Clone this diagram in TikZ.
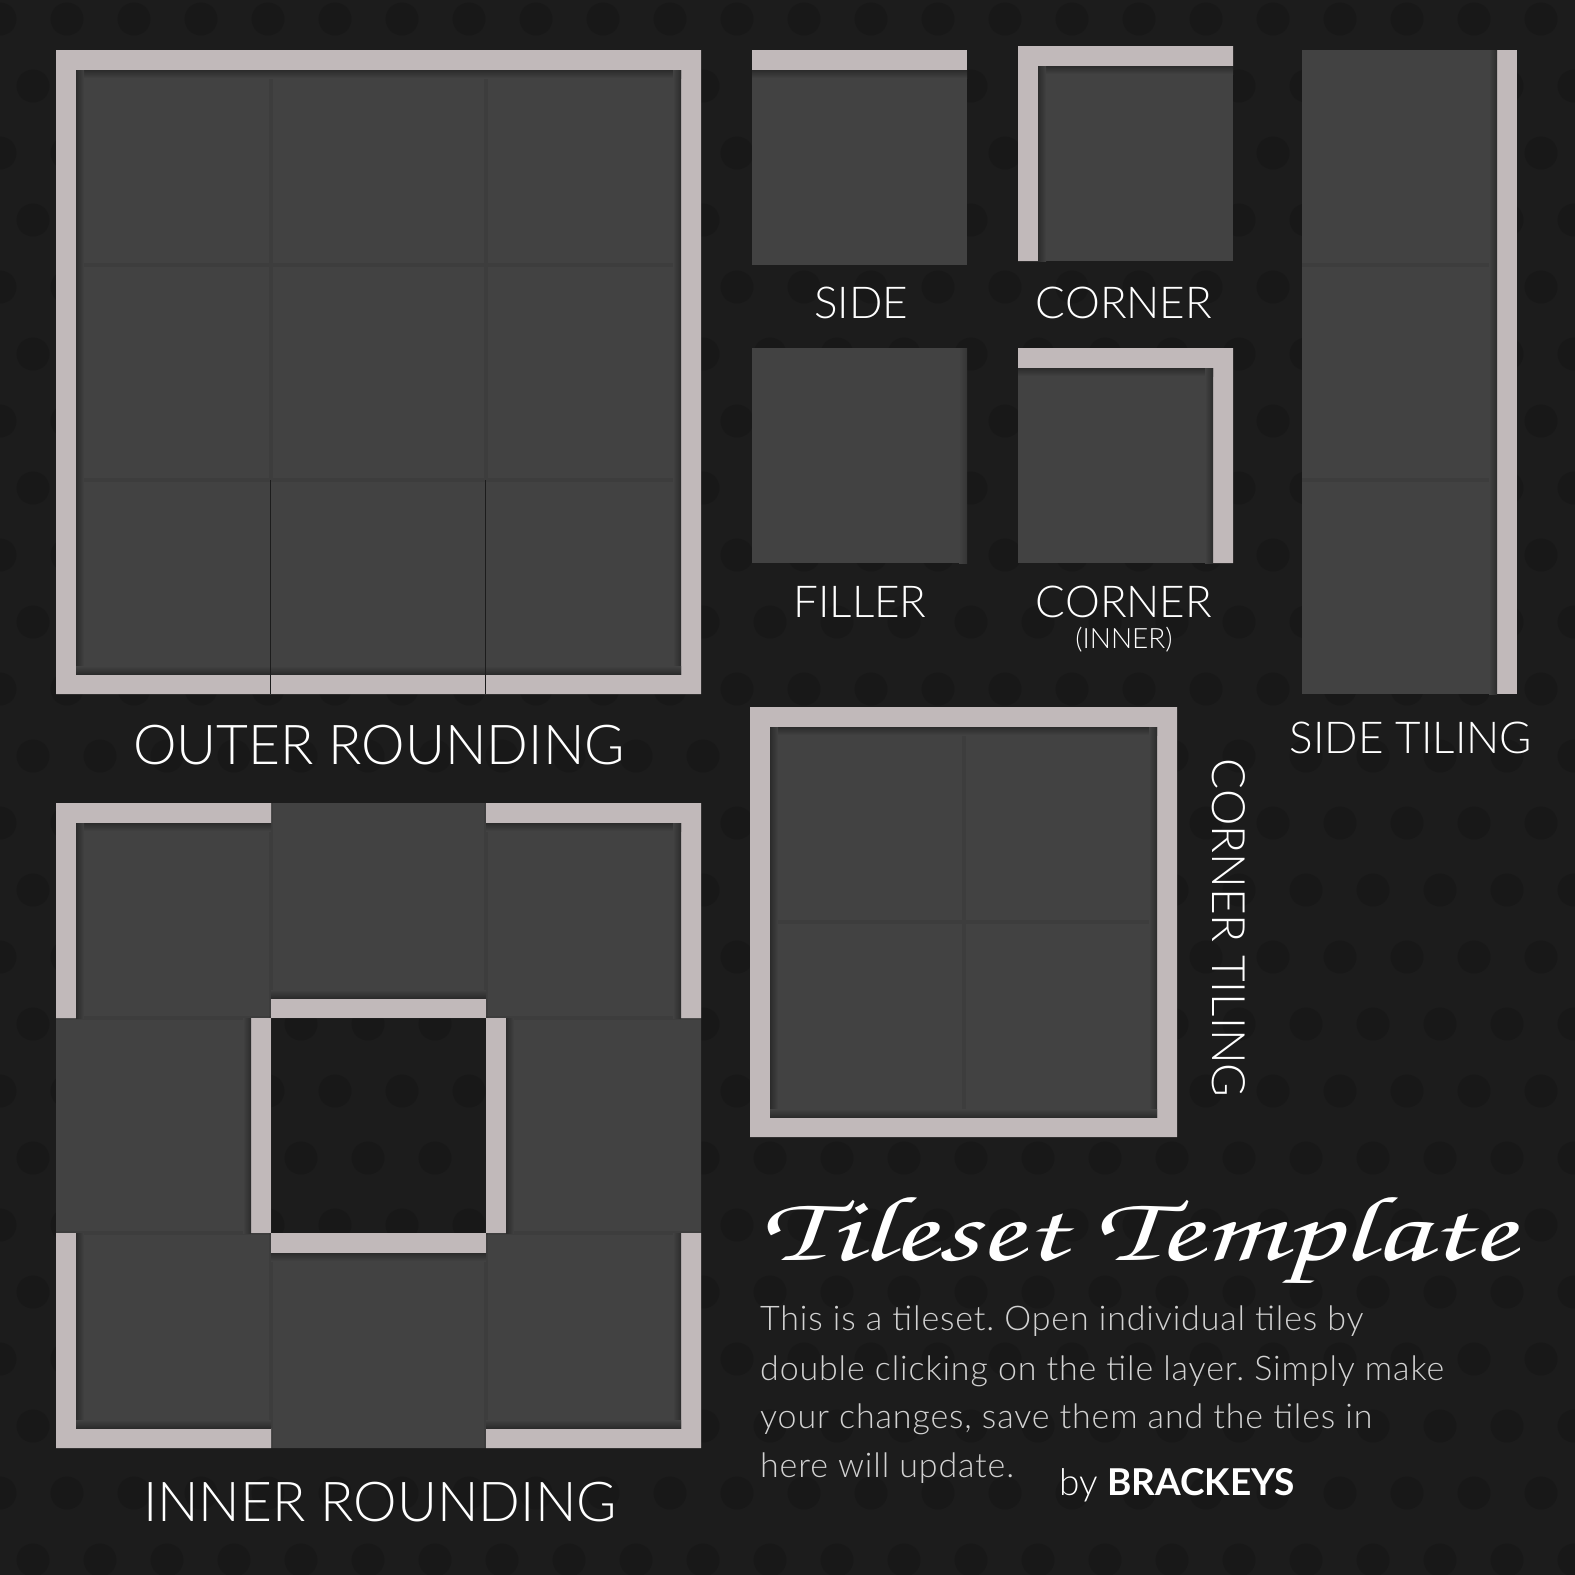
\documentclass[tikz,border=0pt]{standalone}
\usepackage[T1]{fontenc}
\usepackage{fontspec}
\usepackage{graphicx}
\setmainfont{Lato}
\newfontfamily\latolight{Lato Light}
\newfontfamily\latobody[LetterSpace=2.5]{Lato Light}
\newcommand{\titlehand}{\usefont{T1}{pzc}{mb}{it}}
\frenchspacing
\definecolor{bgcol}{HTML}{1C1C1C}
\definecolor{dotcol}{HTML}{181818}
\definecolor{tilecol}{HTML}{424242}
\definecolor{rimcol}{HTML}{C1B9BA}
\definecolor{shadecol}{HTML}{2B2B2B}
\definecolor{bodycol}{HTML}{D2D2D2}
\tikzset{
  tile/.style={fill=tilecol},
  rim/.style={fill=rimcol},
  seam/.style={draw=black, draw opacity=0.07, line width=4},
  darkseam/.style={draw=bgcol, line width=1.5},
  label/.style={text=white, inner sep=0pt, font=\latolight\fontsize{44}{44}\selectfont},
  biglabel/.style={label, font=\latolight\fontsize{55}{55}\selectfont},
  bodytext/.style={text=bodycol, inner sep=0pt, anchor=base west, font=\latobody\fontsize{34}{34}\selectfont}
}

\begin{document}
\begin{tikzpicture}[x=1pt,y=1pt,yscale=-1,xscale=1]
	\useasboundingbox (0,0) rectangle (1575,1575);
	% background with dots
	\fill[bgcol] (0,0) rectangle (1575,1575);
	\foreach \k in {0,...,23}{
		\pgfmathsetmacro\xoff{mod(\k,2)*33}
		\foreach \n in {0,...,24}
			\fill[dotcol] (\n*67+\xoff,19+\k*67) circle[radius=16.5];
	}
	
	%Shape: Outer rounding 3x3
	\fill[tile] (56,50) rectangle (701,694);
	\draw[seam] (271,50) -- (271,480) (486,50) -- (486,480) (56,265) -- (701,265) (56,480) -- (701,480);
	\fill[rim] (56,50) rectangle (701,70) (56,50) rectangle (76,694) (681,50) rectangle (701,694) (56,674) rectangle (701,694);
	\shade[top color=shadecol,bottom color=tilecol] (76,70) rectangle (681,78);
	\shade[left color=shadecol,right color=tilecol] (76,70) rectangle (84,674);
	\shade[left color=tilecol,right color=shadecol] (673,70) rectangle (681,674);
	\shade[top color=tilecol,bottom color=shadecol] (76,666) rectangle (681,674);
	\draw[darkseam] (270.5,480) -- (270.5,694) (485.5,480) -- (485.5,694);
	
	%Shape: Side
	\fill[tile] (752,50) rectangle (967,265);
	\fill[rim] (752,50) rectangle (967,70);
	\shade[top color=shadecol,bottom color=tilecol] (752,70) rectangle (967,78);
	
	%Shape: Corner
	\fill[tile] (1018,46) rectangle (1233,261);
	\fill[rim] (1018,46) rectangle (1233,66) (1018,46) rectangle (1038,261);
	\shade[top color=shadecol,bottom color=tilecol] (1038,66) rectangle (1233,74);
	\shade[left color=shadecol,right color=tilecol] (1038,66) rectangle (1046,261);
	
	%Shape: Filler
	\fill[tile] (752,348) rectangle (967,563);
	\shade[left color=tilecol,right color=tilecol!80!black] (959,348) rectangle (967,563);
	
	%Shape: Corner (inner)
	\fill[tile] (1018,348) rectangle (1233,563);
	\fill[rim] (1018,348) rectangle (1233,368) (1213,348) rectangle (1233,563);
	\shade[top color=shadecol,bottom color=tilecol] (1018,368) rectangle (1213,376);
	\shade[left color=tilecol,right color=shadecol] (1205,368) rectangle (1213,563);
	
	%Shape: Side tiling
	\fill[tile] (1302,50) rectangle (1517,694);
	\draw[seam] (1302,265) -- (1517,265) (1302,480) -- (1517,480);
	\fill[rim] (1497,50) rectangle (1517,694);
	\shade[left color=tilecol,right color=shadecol] (1489,50) rectangle (1497,694);
	
	%Shape: Corner tiling 2x2
	\fill[tile] (750,707) rectangle (1177,1137);
	\draw[seam] (963.5,707) -- (963.5,1137) (750,922) -- (1177,922);
	\fill[rim] (750,707) rectangle (1177,727) (750,707) rectangle (770,1137) (1157,707) rectangle (1177,1137) (750,1117) rectangle (1177,1137);
	\shade[top color=shadecol,bottom color=tilecol] (770,727) rectangle (1157,735);
	\shade[left color=shadecol,right color=tilecol] (770,727) rectangle (778,1117);
	\shade[left color=tilecol,right color=shadecol] (1149,727) rectangle (1157,1117);
	\shade[top color=tilecol,bottom color=shadecol] (770,1109) rectangle (1157,1117);
	
	%Shape: Inner rounding 3x3 with hole
	\fill[tile] (56,803) rectangle (701,1018) (56,1018) rectangle (271,1233) (486,1018) rectangle (701,1233) (56,1233) rectangle (701,1448);
	\draw[seam] (271,803) -- (271,1018) (486,803) -- (486,1018) (271,1233) -- (271,1448) (486,1233) -- (486,1448);
	\draw[seam] (56,1018) -- (271,1018) (486,1018) -- (701,1018) (56,1233) -- (271,1233) (486,1233) -- (701,1233);
	% top left
	\fill[rim] (56,803) rectangle (271,823) (56,803) rectangle (76,1018);
	\shade[top color=shadecol,bottom color=tilecol] (76,823) rectangle (271,831);
	\shade[left color=shadecol,right color=tilecol] (76,823) rectangle (84,1018);
	% top middle
	\fill[rim] (271,998) rectangle (486,1018);
	\shade[top color=tilecol,bottom color=shadecol] (271,990) rectangle (486,998);
	% top right
	\fill[rim] (486,803) rectangle (701,823) (681,803) rectangle (701,1018);
	\shade[top color=shadecol,bottom color=tilecol] (486,823) rectangle (681,831);
	\shade[left color=tilecol,right color=shadecol] (673,823) rectangle (681,1018);
	% middle left
	\fill[rim] (251,1018) rectangle (271,1233);
	\shade[left color=tilecol,right color=shadecol] (243,1018) rectangle (251,1233);
	% middle right
	\fill[rim] (486,1018) rectangle (506,1233);
	\shade[left color=shadecol,right color=tilecol] (506,1018) rectangle (514,1233);
	% bottom left
	\fill[rim] (56,1233) rectangle (76,1448) (56,1428) rectangle (271,1448);
	\shade[left color=shadecol,right color=tilecol] (76,1233) rectangle (84,1428);
	\shade[top color=tilecol,bottom color=shadecol] (76,1420) rectangle (271,1428);
	% bottom middle
	\fill[rim] (271,1233) rectangle (486,1253);
	\shade[top color=shadecol,bottom color=tilecol] (271,1253) rectangle (486,1261);
	% bottom right
	\fill[rim] (681,1233) rectangle (701,1448) (486,1428) rectangle (701,1448);
	\shade[left color=tilecol,right color=shadecol] (673,1233) rectangle (681,1428);
	\shade[top color=tilecol,bottom color=shadecol] (486,1420) rectangle (681,1428);
	
	% Text Node
	\node[biglabel, anchor=base] (outer) at (379,764) {OUTER ROUNDING};
	% Text Node
	\node[biglabel, anchor=base] (inner) at (380,1521) {INNER ROUNDING};
	% Text Node
	\node[label, anchor=base] (side) at (861,318) {SIDE};
	% Text Node
	\node[label, anchor=base] (corner) at (1124,318) {CORNER};
	% Text Node
	\node[label, anchor=base] (filler) at (860,617) {FILLER};
	% Text Node
	\node[label, anchor=base] (cornerin) at (1124,617) {CORNER};
	% Text Node
	\node[label, anchor=base, font=\latolight\fontsize{28}{28}\selectfont] (innertag) at (1124,648) {(INNER)};
	% Text Node
	\node[label, anchor=base] (sidetiling) at (1411,753) {SIDE TILING};
	% Text Node
	\node[label, anchor=base, rotate=-90, font=\latolight\fontsize{46}{46}\selectfont] (cornertiling) at (1212,928) {CORNER TILING};
	
	% Text Node
	\node[text=white, inner sep=0pt, anchor=base west] (title) at (760,1260) {\resizebox{755pt}{66pt}{\titlehand\fontsize{100}{100}\selectfont Tileset Template}};
	% Text Node
	\node[bodytext] (body1) at (760,1330) {This is a tileset. Open individual tiles by};
	\node[bodytext] (body2) at (760,1380) {double clicking on the tile layer. Simply make};
	\node[bodytext] (body3) at (760,1428) {your changes, save them and the tiles in};
	\node[bodytext] (body4) at (760,1477) {here will update.};
	% Text Node
	\node[inner sep=0pt, anchor=base west, text=white, font=\fontsize{37}{37}\selectfont] (byline) at (1059,1495) {{\latolight by} \bfseries BRACKEYS};
\end{tikzpicture}
\end{document}
